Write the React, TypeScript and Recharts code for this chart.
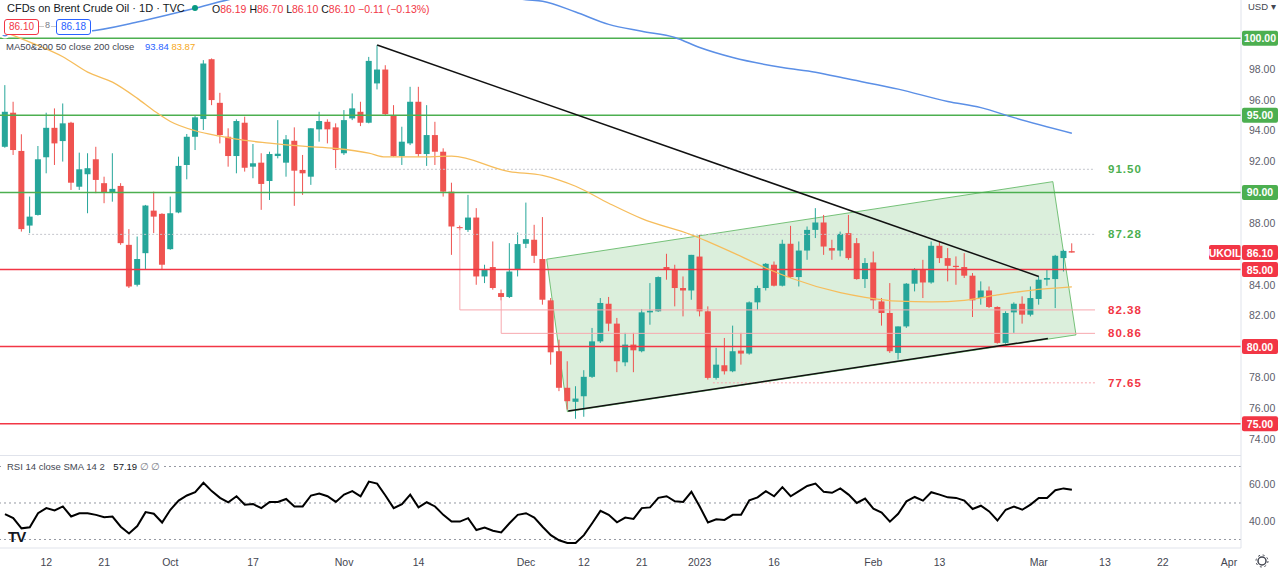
import React from "react";
import {
  ComposedChart,
  Bar,
  Line,
  XAxis,
  YAxis,
  ReferenceLine,
  ReferenceArea,
} from "recharts";

// ---- data (daily candles, 5 Sep 2022 .. 7 Mar 2023) ----
const opens = [
  92.96, 95.17, 92.69, 87.85, 88.54, 92.28, 94.19, 93.33, 94.52, 90.37,
  91.18, 92.15, 90.6, 89.99, 90.42, 86.6, 84.01, 86.06, 88.82, 88.61,
  86.32, 88.7, 91.78, 93.61, 94.76, 98.64, 95.81, 93.61, 92.36, 94.52,
  91.67, 91.93, 90.74, 92.36, 91.93, 93.35, 91.46, 91.02, 94.09, 94.58,
  94.22, 92.54, 94.8, 95.23, 94.52, 97.07, 97.97, 95.02, 92.36, 93.18,
  95.88, 92.49, 93.72, 92.64, 90.05, 87.75, 87.57, 88.37, 84.55, 85.16,
  83.47, 83.22, 84.98, 86.67, 86.93, 85.68, 83.0, 79.7, 77.33, 76.42,
  76.78, 78.04, 80.34, 82.78, 81.49, 78.98, 80.13, 79.7, 82.22, 82.29,
  85.16, 85.03, 83.8, 83.64, 85.84, 82.29, 77.97, 78.79, 78.4, 79.74,
  79.55, 82.87, 83.8, 85.31, 83.95, 86.67, 84.51, 86.23, 87.57, 88.05,
  86.39, 86.23, 87.36, 86.71, 84.38, 85.46, 82.93, 82.18, 79.59, 81.31,
  84.08, 85.03, 84.16, 86.54, 85.74, 85.24, 85.16, 84.6, 83.15, 83.64,
  82.57, 80.24, 82.22, 82.78, 82.07, 83.09, 84.34, 84.38, 85.74, 86.19,
];
const highs = [
  96.96, 95.88, 93.77, 89.73, 93.01, 95.17, 95.45, 95.77, 94.58, 92.58,
  92.54, 92.96, 91.02, 92.54, 90.6, 87.62, 87.14, 89.19, 90.05, 88.65,
  89.73, 92.32, 93.79, 95.02, 98.58, 98.69, 96.46, 94.16, 94.74, 94.91,
  93.14, 92.54, 92.64, 94.69, 93.72, 94.22, 92.43, 94.16, 95.23, 94.74,
  94.48, 95.34, 96.42, 95.88, 98.79, 99.55, 98.25, 95.66, 94.26, 96.85,
  96.85, 95.66, 94.58, 92.86, 90.63, 87.85, 89.84, 88.98, 85.31, 86.82,
  83.7, 86.71, 87.4, 89.34, 87.9, 88.4, 83.15, 80.45, 79.05, 77.43,
  78.47, 81.21, 83.15, 83.22, 81.86, 80.89, 80.89, 82.44, 84.12, 84.55,
  86.02, 85.31, 84.55, 85.95, 87.25, 82.61, 79.92, 80.56, 81.36, 80.89,
  82.93, 83.95, 85.42, 85.52, 86.93, 87.83, 86.82, 87.79, 88.98, 88.54,
  86.93, 87.46, 88.54, 87.04, 85.74, 86.17, 83.15, 84.12, 81.31, 84.12,
  85.09, 85.63, 86.82, 86.82, 86.39, 85.85, 86.06, 84.77, 84.23, 83.9,
  82.61, 82.29, 82.87, 83.26, 83.9, 84.55, 85.03, 85.95, 86.28, 86.7,
];
const lows = [
  92.9, 92.43, 87.46, 87.36, 88.5, 91.24, 91.78, 92.0, 90.16, 90.16,
  88.65, 89.95, 89.3, 89.4, 86.6, 83.8, 83.9, 84.98, 87.36, 84.98,
  86.28, 88.65, 90.85, 92.75, 94.05, 95.66, 93.18, 91.67, 91.24, 91.35,
  90.92, 88.87, 89.51, 92.21, 91.02, 89.13, 89.84, 90.49, 93.29, 93.18,
  91.57, 92.43, 94.69, 94.3, 94.48, 96.68, 95.02, 92.32, 91.78, 93.07,
  92.32, 91.72, 91.78, 89.73, 85.95, 87.55, 87.44, 84.01, 84.12, 83.69,
  83.0, 83.15, 84.55, 86.39, 85.42, 82.72, 78.83, 77.11, 75.92, 75.32,
  75.45, 77.97, 80.24, 81.0, 78.34, 78.73, 78.34, 79.63, 81.42, 82.25,
  84.34, 82.61, 81.96, 83.04, 81.96, 77.86, 77.86, 78.19, 78.34, 78.83,
  79.48, 82.39, 83.64, 83.9, 83.9, 84.45, 83.9, 85.63, 87.04, 85.95,
  85.63, 85.85, 85.63, 84.34, 83.8, 82.44, 81.36, 79.59, 79.16, 81.21,
  83.58, 83.15, 84.08, 85.42, 84.23, 84.01, 84.45, 81.92, 82.72, 82.5,
  80.19, 80.19, 80.89, 81.49, 81.96, 82.72, 83.95, 82.5, 84.87, 86.1,
];
const closes = [
  95.23, 92.75, 87.62, 88.43, 92.15, 94.19, 93.18, 94.48, 90.63, 91.5,
  91.57, 90.81, 89.99, 90.23, 86.71, 83.9, 85.68, 89.15, 88.43, 85.31,
  88.65, 91.72, 93.61, 94.87, 98.36, 95.99, 93.72, 92.36, 94.63, 91.6,
  91.89, 90.55, 92.49, 92.51, 93.44, 91.41, 91.24, 94.16, 94.63, 94.09,
  92.75, 94.69, 95.45, 94.52, 98.53, 97.97, 95.08, 92.36, 93.29, 95.88,
  92.49, 93.72, 92.64, 90.05, 87.79, 87.68, 88.37, 84.55, 85.03, 83.8,
  83.22, 84.87, 86.65, 86.97, 85.89, 83.04, 79.63, 77.33, 76.46, 76.63,
  78.04, 80.34, 82.83, 81.49, 79.05, 80.13, 79.76, 82.22, 82.33, 84.51,
  84.98, 83.8, 83.64, 85.95, 82.29, 77.97, 78.83, 78.4, 79.7, 79.55,
  82.87, 83.8, 85.37, 83.95, 86.67, 84.51, 86.23, 87.57, 88.05, 86.49,
  86.23, 87.31, 85.74, 84.38, 85.42, 83.0, 82.18, 79.7, 81.31, 84.08,
  85.03, 84.16, 86.54, 85.74, 85.24, 85.16, 84.6, 83.0, 83.64, 82.57,
  80.24, 82.18, 82.78, 82.07, 83.15, 84.34, 84.45, 85.89, 86.21, 86.1,
];
const rsi = [
  43.9, 41.7, 36.1, 36.7, 44.4, 47.2, 45.9, 48.1, 42.6, 44.4,
  44.4, 43.5, 42.2, 42.6, 37.0, 33.3, 37.4, 45.0, 44.1, 39.3,
  46.3, 51.3, 54.1, 55.9, 61.1, 56.5, 52.8, 50.4, 53.7, 49.1,
  49.4, 47.2, 50.6, 50.6, 52.2, 48.1, 48.1, 54.1, 55.2, 53.7,
  50.6, 54.6, 56.5, 53.7, 61.7, 60.6, 54.1, 47.2, 49.4, 54.6,
  47.6, 50.4, 48.1, 43.5, 39.8, 39.8, 41.7, 35.2, 36.5, 34.8,
  33.9, 38.9, 43.5, 44.4, 42.0, 37.0, 32.4, 29.6, 28.1, 28.1,
  32.4, 38.9, 45.7, 43.5, 39.4, 42.0, 41.3, 47.2, 47.6, 52.8,
  53.7, 50.9, 50.6, 56.1, 48.1, 39.3, 41.1, 40.7, 43.5, 43.5,
  51.5, 53.1, 56.5, 53.7, 58.7, 53.7, 56.5, 59.3, 60.6, 56.1,
  55.6, 58.0, 54.6, 50.0, 52.4, 46.9, 44.8, 39.8, 44.1, 50.9,
  53.3, 51.3, 55.9, 54.6, 53.1, 52.8, 51.3, 46.7, 48.5, 45.4,
  40.4, 46.3, 48.1, 46.3, 49.1, 52.8, 52.8, 57.0, 58.0, 57.2,
];

// moving averages, read at a few bars and joined by the line
const ma50Idx = [0, 3, 7, 10, 13, 16, 18, 20, 23, 26, 28, 32, 36, 40, 44, 46, 50, 54, 61, 65, 67, 69, 73, 77, 83, 88, 92, 95, 101, 104, 108, 112, 116, 120, 124, 129];
const ma50Val = [100.4, 99.75, 98.8, 97.8, 97.15, 96.1, 95.3, 94.6, 94.0, 93.65, 93.45, 93.2, 93.0, 92.85, 92.55, 92.3, 92.3, 92.35, 91.35, 91.1, 90.8, 90.4, 89.3, 88.3, 87.25, 86.1, 85.1, 84.45, 83.5, 83.2, 82.95, 82.9, 83.0, 83.35, 83.65, 83.87];
const ma200Idx = [0, 5, 10, 16, 20, 23, 27, 32, 40, 50, 58, 63, 65, 69, 73, 77, 81, 84, 88, 94, 98, 102, 108, 114, 118, 122, 129];
const ma200Val = [100.3, 100.35, 100.45, 101.05, 101.55, 101.95, 102.5, 103.0, 103.3, 103.3, 102.9, 102.5, 102.4, 101.7, 100.9, 100.45, 100.05, 99.4, 98.75, 98.1, 97.8, 97.35, 96.7, 95.9, 95.5, 94.85, 93.84];

// time axis
const tickIdx = [5, 12, 20, 30, 41, 50, 63, 70, 77, 84, 93, 105, 113, 125, 133, 140, 148];
const tickLbl = ["12", "21", "Oct", "17", "Nov", "14", "Dec", "12", "21", "2023", "16", "Feb", "13", "Mar", "13", "22", "Apr"];
const priceTicks = [74, 76, 78, 82, 84, 88, 92, 94, 96, 98];
const rsiTicks = [40, 60];
const rsiLevels = [70, 50, 30];

// drawings
const greenLevels = [100, 95, 90];
const redLevels = [85, 80, 75];
const markLevels = [91.5, 87.28, 82.38, 80.86, 77.65];
const markStart = [39.9, 2.8, 55, 60, 85.6];
const markEnd = 131.8;
const legX = [55, 60];
const legTop = [87.7, 83.2];
const legBottom = [82.38, 80.86];
const downTrend = [[45, 99.56], [125, 84.55]];
const upTrend = [[68.1, 75.83], [126.1, 80.52]];
const channel = [[65.5, 85.67], [126.7, 90.7], [129.5, 80.76], [68.0, 75.78]];
const lastPrice = 86.1;

const FONT = '"Liberation Sans", Arial, sans-serif';
const UP = "#26a69a";
const DOWN = "#ef5350";
const GREEN = "#4caf50";
const RED = "#f23645";
const X_DOMAIN: [number, number] = [-0.6, 149.45];

const pick = (idx: number[], val: number[], i: number) => {
  const k = idx.indexOf(i);
  return k >= 0 ? val[k] : null;
};

const rows = opens.map((o, i) => ({
  i,
  o,
  h: highs[i],
  l: lows[i],
  c: closes[i],
  rsi: rsi[i],
  ma50: pick(ma50Idx, ma50Val, i),
  ma200: pick(ma200Idx, ma200Val, i),
}));

function Candle(props: any) {
  const { x, y, width, height, payload } = props;
  if (!payload || x == null) return null;
  const { o, h, l, c } = payload;
  const top = Math.min(y, y + height);
  const hgt = Math.abs(height);
  const k = h === l ? 0 : hgt / (h - l);
  const yO = top + (h - o) * k;
  const yC = top + (h - c) * k;
  const col = c >= o ? UP : DOWN;
  const cx = x + width / 2;
  return (
    <g>
      <line x1={cx} x2={cx} y1={top} y2={top + hgt} stroke={col} strokeWidth={1} />
      <rect x={x} y={Math.min(yO, yC)} width={width} height={Math.max(1, Math.abs(yO - yC))} fill={col} />
    </g>
  );
}

function ChannelShape(props: any) {
  const { x, y, width, height } = props;
  const xs = channel.map((p) => p[0]);
  const ys = channel.map((p) => p[1]);
  const x1 = Math.min(...xs), x2 = Math.max(...xs);
  const y1 = Math.min(...ys), y2 = Math.max(...ys);
  const pts = channel
    .map(([a, b]) => `${x + ((a - x1) / (x2 - x1)) * width},${y + ((y2 - b) / (y2 - y1)) * height}`)
    .join(" ");
  return <polygon points={pts} fill="rgba(76,175,80,0.2)" stroke="rgba(76,175,80,0.75)" strokeWidth={1} />;
}

function Tag(props: any) {
  const { viewBox, text, color, w = 36, dx = 1 } = props;
  if (!viewBox) return null;
  const x = viewBox.x + viewBox.width + dx;
  const y = viewBox.y;
  return (
    <g>
      <rect x={x} y={y - 7.5} width={w} height={15} rx={2} fill={color} />
      <text x={x + w / 2} y={y + 4} textAnchor="middle" fill="#fff" fontSize={10.5} fontWeight={700} fontFamily={FONT}>
        {text}
      </text>
    </g>
  );
}

function LevelText(props: any) {
  const { viewBox, text, color } = props;
  if (!viewBox) return null;
  return (
    <text x={viewBox.x + viewBox.width + 13} y={viewBox.y + 4} fill={color} fontSize={11.5} fontWeight={700} letterSpacing={1} fontFamily={FONT}>
      {text}
    </text>
  );
}

const axisTick = { fontSize: 10.5, fill: "#5d606b", fontFamily: FONT };

export default function App() {
  return (
    <div style={{ position: "absolute", left: 0, top: 0, width: 1280, height: 570, background: "#fff", fontFamily: FONT, overflow: "hidden" }}>
      <div style={{ position: "absolute", left: 0, top: 0 }}>
        <ComposedChart width={1280} height={455} data={rows} margin={{ top: 0, right: 0, bottom: 0, left: 0 }}>
          <XAxis type="number" dataKey="i" domain={X_DOMAIN} allowDataOverflow hide />
          <YAxis
            orientation="right"
            width={39}
            domain={[72.97, 102.48]}
            allowDataOverflow
            ticks={priceTicks}
            tickFormatter={(v: number) => v.toFixed(2)}
            tick={axisTick}
            axisLine={{ stroke: "#e0e3eb" }}
            tickLine={false}
            tickMargin={2}
          />
          <ReferenceArea
            x1={channel[0][0]}
            x2={channel[2][0]}
            y1={channel[3][1]}
            y2={channel[1][1]}
            shape={(p: any) => <ChannelShape {...p} />}
          />
          {markLevels.map((v, k) => (
            <ReferenceLine
              key={"m" + v}
              segment={[{ x: markStart[k], y: v }, { x: markEnd, y: v }]}
              stroke={k < 2 ? "#c4c6cc" : "#f7a8ae"}
              strokeDasharray={k < 2 || k === 4 ? "2 2" : undefined}
              strokeWidth={1}
              label={<LevelText text={v.toFixed(2)} color={k < 2 ? GREEN : RED} />}
            />
          ))}
          {legX.map((xv, k) => (
            <ReferenceLine
              key={"leg" + k}
              segment={[{ x: xv, y: legTop[k] }, { x: xv, y: legBottom[k] }]}
              stroke="#f7a8ae"
              strokeWidth={1}
            />
          ))}
          {greenLevels.map((v) => (
            <ReferenceLine key={"g" + v} y={v} stroke={GREEN} strokeWidth={1.5} label={<Tag text={v.toFixed(2)} color={GREEN} />} />
          ))}
          {redLevels.map((v) => (
            <ReferenceLine key={"r" + v} y={v} stroke={RED} strokeWidth={1.5} label={<Tag text={v.toFixed(2)} color={RED} />} />
          ))}
          <Bar dataKey={(d: any) => [d.l, d.h]} shape={<Candle />} barSize={6} isAnimationActive={false} />
          <Line type="monotone" dataKey="ma50" stroke="#f6bd5c" strokeWidth={1.3} dot={false} connectNulls isAnimationActive={false} />
          <Line type="monotone" dataKey="ma200" stroke="#5b8fe6" strokeWidth={1.5} dot={false} connectNulls isAnimationActive={false} />
          <ReferenceLine
            segment={[{ x: downTrend[0][0], y: downTrend[0][1] }, { x: downTrend[1][0], y: downTrend[1][1] }]}
            stroke="#111"
            strokeWidth={1.5}
          />
          <ReferenceLine
            segment={[{ x: upTrend[0][0], y: upTrend[0][1] }, { x: upTrend[1][0], y: upTrend[1][1] }]}
            stroke="#111"
            strokeWidth={1.5}
          />
          <ReferenceLine
            y={lastPrice}
            strokeOpacity={0}
            label={(p: any) => (
              <g>
                <Tag viewBox={p.viewBox} text="UKOIL" color={RED} w={32} dx={-32} />
                <Tag viewBox={p.viewBox} text={lastPrice.toFixed(2)} color={RED} />
              </g>
            )}
          />
        </ComposedChart>
      </div>

      <div style={{ position: "absolute", left: 0, top: 455, width: 1241, height: 1, background: "#e0e3eb" }} />

      <div style={{ position: "absolute", left: 0, top: 455 }}>
        <ComposedChart width={1280} height={115} data={rows} margin={{ top: 0, right: 0, bottom: 0, left: 0 }}>
          <XAxis
            type="number"
            dataKey="i"
            domain={X_DOMAIN}
            allowDataOverflow
            ticks={tickIdx}
            interval={0}
            tickFormatter={(v: number) => tickLbl[tickIdx.indexOf(v)] ?? ""}
            height={22}
            tick={{ ...axisTick, fill: "#434651" }}
            axisLine={{ stroke: "#e0e3eb" }}
            tickLine={false}
            tickMargin={5}
          />
          <YAxis
            orientation="right"
            width={39}
            domain={[25.34, 76.3]}
            allowDataOverflow
            ticks={rsiTicks}
            tickFormatter={(v: number) => v.toFixed(2)}
            tick={axisTick}
            axisLine={{ stroke: "#e0e3eb" }}
            tickLine={false}
            tickMargin={2}
          />
          {rsiLevels.map((v) => (
            <ReferenceLine key={v} y={v} stroke="#9598a1" strokeDasharray="2 3" strokeWidth={1} />
          ))}
          <Line type="linear" dataKey="rsi" stroke="#000" strokeWidth={2} dot={false} isAnimationActive={false} />
        </ComposedChart>
      </div>

      {/* legends */}
      <div style={{ position: "absolute", left: 7, top: 2, fontSize: 11, color: "#131722", whiteSpace: "nowrap" }}>
        CFDs on Brent Crude Oil · 1D · TVC
      </div>
      <div style={{ position: "absolute", left: 192, top: 5, width: 6, height: 6, borderRadius: 3, background: "#089981" }} />
      <div style={{ position: "absolute", left: 212, top: 3, fontSize: 10.5, color: RED, whiteSpace: "nowrap" }}>
        <span style={{ color: "#131722" }}>O</span>86.19 <span style={{ color: "#131722" }}>H</span>86.70{" "}
        <span style={{ color: "#131722" }}>L</span>86.10 <span style={{ color: "#131722" }}>C</span>86.10 −0.11 (−0.13%)
      </div>
      <div style={{ position: "absolute", left: 2, top: 17, width: 90, height: 18, background: "#fff" }} />
      <div style={{ position: "absolute", left: 4, top: 19, width: 33, height: 14, border: "1px solid " + RED, borderRadius: 3, color: RED, fontSize: 10, lineHeight: "14px", textAlign: "center", background: "#fff" }}>
        86.10
      </div>
      <div style={{ position: "absolute", left: 39, top: 26, width: 17, height: 1, background: "#c8c8c8" }} />
      <div style={{ position: "absolute", left: 44, top: 20, fontSize: 9, color: "#787b86", background: "#fff", padding: "0 1px" }}>8</div>
      <div style={{ position: "absolute", left: 56, top: 19, width: 33, height: 14, border: "1px solid #2962ff", borderRadius: 3, color: "#2962ff", fontSize: 10, lineHeight: "14px", textAlign: "center", background: "#fff" }}>
        86.18
      </div>
      <div style={{ position: "absolute", left: 6, top: 41, fontSize: 9.5, color: "#434651", whiteSpace: "nowrap" }}>
        MA50&amp;200 50 close 200 close <span style={{ color: "#2962ff", marginLeft: 8 }}>93.84</span>{" "}
        <span style={{ color: "#f6a821" }}>83.87</span>
      </div>
      <div style={{ position: "absolute", left: 1248, top: 1, fontSize: 9.5, color: "#434651" }}>USD ▾</div>
      <div style={{ position: "absolute", left: 4, top: 461, fontSize: 9.5, color: "#434651", whiteSpace: "nowrap", background: "#fff", padding: "0 3px" }}>
        RSI 14 close SMA 14 2 <span style={{ color: "#131722", marginLeft: 6 }}>57.19</span>{" "}
        <span style={{ color: "#787b86" }}>∅ ∅</span>
      </div>
      <div style={{ position: "absolute", left: 8, top: 528, fontSize: 15, fontWeight: 900, color: "#131722", letterSpacing: -1 }}>TV</div>
      <svg style={{ position: "absolute", left: 1255, top: 554 }} width={14} height={14}>
        <circle cx={7} cy={7} r={4} fill="none" stroke="#434651" strokeWidth={1.5} />
        <circle cx={7} cy={7} r={6} fill="none" stroke="#434651" strokeWidth={1} strokeDasharray="2 2.7" />
      </svg>
    </div>
  );
}
